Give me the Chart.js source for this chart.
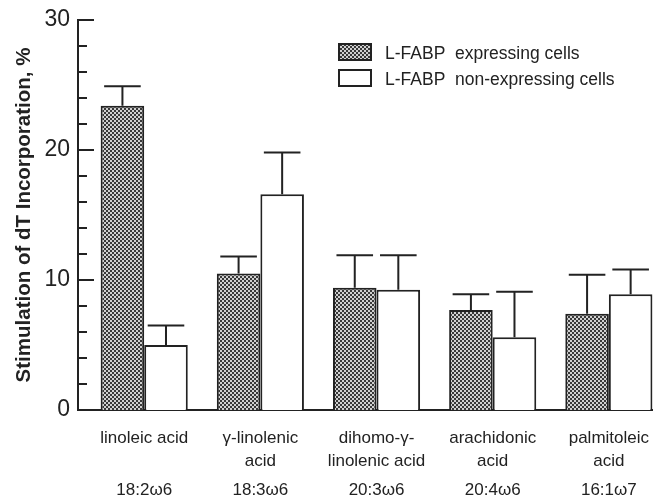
<!DOCTYPE html>
<html>
<head>
<meta charset="utf-8">
<script src="https://cdn.jsdelivr.net/npm/chart.js@4.4.1/dist/chart.umd.min.js"></script>
<style>
  html, body { margin: 0; padding: 0; background: #fff; }
  #wrap { width: 653px; height: 497px; position: relative; }
</style>
</head>
<body>
<div id="wrap"><canvas id="chart"></canvas></div>
<script>
// fatty acid categories (two text lines) and their formulas
const acidNames = [
  ["linoleic acid", ""],
  ["\u03b3-linolenic", "acid"],
  ["dihomo-\u03b3-", "linolenic acid"],
  ["arachidonic", "acid"],
  ["palmitoleic", "acid"]
];
const acidFormulas = ["18:2\u03c96", "18:3\u03c96", "20:3\u03c96", "20:4\u03c96", "16:1\u03c97"];

// stimulation values, % and upper error
const expressing = [23.4, 10.5, 9.4, 7.7, 7.4];
const expressingErr = [1.5, 1.3, 2.5, 1.2, 3.0];
const nonExpressing = [5.0, 16.6, 9.25, 5.6, 8.9];
const nonExpressingErr = [1.5, 3.2, 2.65, 3.5, 1.9];

const yTicks = [0, 10, 20, 30];
const INK = "#222";
const FONT = "'Liberation Sans', Arial, sans-serif";

// dotted fill like the print screen
function makeDots() {
  const c = document.createElement("canvas");
  c.width = 4; c.height = 4;
  const g = c.getContext("2d");
  g.fillStyle = "#d0d0d0";
  g.fillRect(0, 0, 4, 4);
  g.fillStyle = "#383838";
  g.fillRect(0, 0, 2, 2);
  g.fillRect(2, 2, 2, 2);
  return g.createPattern(c, "repeat");
}
const ctx = document.getElementById("chart").getContext("2d");
const dots = makeDots();

const errorBars = {
  id: "errorBars",
  afterDatasetsDraw(chart) {
    const g = chart.ctx;
    const y = chart.scales.y;
    const errs = [expressingErr, nonExpressingErr];
    g.save();
    g.strokeStyle = INK;
    g.lineWidth = 2;
    chart.data.datasets.forEach((ds, di) => {
      chart.getDatasetMeta(di).data.forEach((bar, i) => {
        const top = y.getPixelForValue(ds.data[i].y + errs[di][i]);
        const half = bar.width * 0.42;
        g.beginPath();
        g.moveTo(bar.x, bar.y);
        g.lineTo(bar.x, top);
        g.moveTo(bar.x - half, top);
        g.lineTo(bar.x + half, top);
        g.stroke();
      });
    });
    g.restore();
  }
};

const yAxisTicks = {
  id: "yAxisTicks",
  afterDraw(chart) {
    const g = chart.ctx;
    const y = chart.scales.y;
    const x0 = chart.chartArea.left;
    g.save();
    g.strokeStyle = INK;
    g.lineWidth = 2;
    for (let v = 2; v <= 30; v += 2) {
      const py = Math.round(y.getPixelForValue(v));
      const len = v % 10 === 0 ? 16 : 9;
      g.beginPath();
      g.moveTo(x0, py);
      g.lineTo(x0 + len, py);
      g.stroke();
    }
    // formula line under the category names
    const x = chart.scales.x;
    g.fillStyle = INK;
    g.font = "17px " + FONT;
    g.textAlign = "center";
    g.textBaseline = "middle";
    acidFormulas.forEach((f, i) => g.fillText(f, x.getPixelForValue(i), 490));
    g.restore();
  }
};

const boxLegend = {
  id: "boxLegend",
  afterDraw(chart) {
    const g = chart.ctx;
    g.save();
    g.font = "17.5px " + FONT;
    g.textBaseline = "middle";
    chart.data.datasets.forEach((ds, i) => {
      const top = 44 + i * 26;
      g.fillStyle = ds.backgroundColor;
      g.fillRect(339, top, 32, 16);
      g.strokeStyle = INK;
      g.lineWidth = 2;
      g.strokeRect(339, top, 32, 16);
      g.fillStyle = INK;
      g.fillText(ds.label, 385, top + 10);
    });
    g.restore();
  }
};

new Chart(ctx, {
  type: "bar",
  data: {
    datasets: [
      {
        label: "L-FABP  expressing cells",
        data: expressing.map((v, i) => ({ x: i, y: v })),
        backgroundColor: dots,
        borderColor: INK,
        borderWidth: 2
      },
      {
        label: "L-FABP  non-expressing cells",
        data: nonExpressing.map((v, i) => ({ x: i, y: v })),
        backgroundColor: "#ffffff",
        borderColor: INK,
        borderWidth: 2
      }
    ]
  },
  options: {
    responsive: true,
    maintainAspectRatio: false,
    animation: false,
    layout: { padding: { top: 20, right: 0, left: 0, bottom: 0 } },
    categoryPercentage: 0.75,
    barPercentage: 1.0,
    plugins: {
      legend: { display: false },
      tooltip: { enabled: false }
    },
    scales: {
      x: {
        type: "linear",
        offset: false,
        min: -0.57,
        max: 4.38,
        grid: { display: false },
        border: { color: INK, width: 2 },
        afterBuildTicks: scale => {
          scale.ticks = acidFormulas.map((f, i) => ({ value: i }));
        },
        afterFit: scale => {
          scale.height = 87;
          scale.paddingLeft = 0;
          scale.paddingRight = 0;
        },
        ticks: {
          autoSkip: false,
          maxRotation: 0,
          padding: 9,
          color: INK,
          font: { family: FONT, size: 17, lineHeight: 1.35 },
          callback: v => acidNames[v]
        }
      },
      y: {
        min: 0,
        max: 30,
        grid: { display: false },
        border: { color: INK, width: 2 },
        afterBuildTicks: scale => {
          scale.ticks = yTicks.map(v => ({ value: v }));
        },
        afterFit: scale => { scale.width = 78; },
        ticks: {
          padding: 0,
          color: INK,
          font: { family: FONT, size: 23 }
        },
        title: {
          display: true,
          text: "Stimulation of dT Incorporation, %",
          color: INK,
          padding: { top: 12, bottom: 0 },
          font: { family: FONT, size: 20.5, weight: "bold" }
        }
      }
    }
  },
  plugins: [errorBars, yAxisTicks, boxLegend]
});
</script>
</body>
</html>
